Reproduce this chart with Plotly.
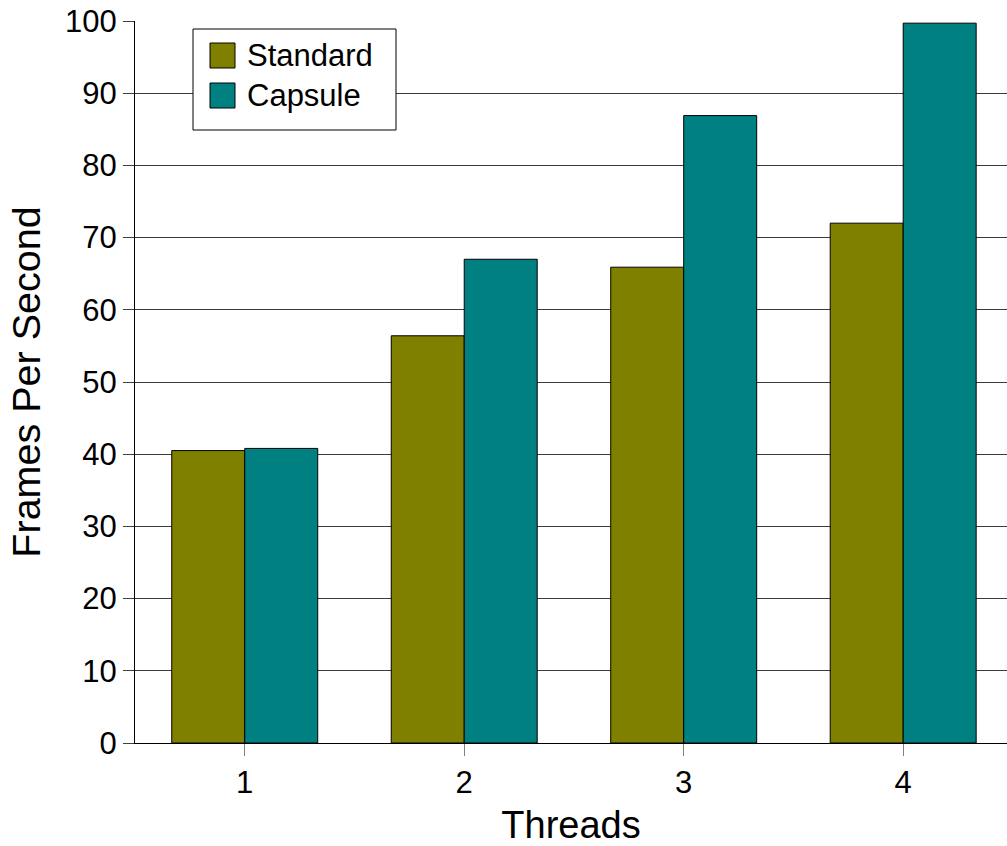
import plotly.graph_objects as go

threads = [1, 2, 3, 4]
tick_labels = ["1", "2", "3", "4"]
series_names = ["Standard", "Capsule"]
standard_fps = [40.5, 56.4, 65.9, 72.0]
capsule_fps = [40.8, 67.0, 86.9, 99.7]
y_ticks = [0, 10, 20, 30, 40, 50, 60, 70, 80, 90, 100]

colors = ["#808000", "#008080"]
FONT = "Liberation Sans, Arial, sans-serif"

fig = go.Figure()
for name, vals, col in zip(series_names, [standard_fps, capsule_fps], colors):
    fig.add_trace(go.Bar(
        x=threads, y=vals, name=name,
        marker=dict(color=col, line=dict(color="#000000", width=1)),
        showlegend=False,
    ))

fig.update_layout(
    width=1007, height=846,
    margin=dict(l=135, r=0, t=21, b=103),
    paper_bgcolor="white", plot_bgcolor="white",
    barmode="group", bargap=0.335, bargroupgap=0,
    font=dict(family=FONT, size=31, color="black"),
    xaxis=dict(
        range=[0.5, 4.473],
        tickmode="array", tickvals=threads, ticktext=tick_labels,
        ticks="outside", ticklen=12, tickcolor="#808080", tickwidth=1,
        showline=True, linecolor="black", linewidth=1,
        showgrid=False, zeroline=False,
        tickfont=dict(size=31),
        title=dict(text="Threads", font=dict(size=38), standoff=16),
    ),
    yaxis=dict(
        range=[0, 100],
        tickmode="array", tickvals=y_ticks,
        ticks="outside", ticklen=11, tickcolor="#404040", tickwidth=1,
        showline=True, linecolor="black", linewidth=1,
        showgrid=True, gridcolor="#3c3c3c", gridwidth=1,
        zeroline=False,
        tickfont=dict(size=31),
        title=dict(text="Frames Per Second", font=dict(size=39.5), standoff=12),
    ),
)

# custom legend (box, swatches, labels) in pixel-derived paper coords
W, H = 1007 - 135, 846 - 21 - 103
def px(x):
    return (x - 135) / W
def py(y):
    return (846 - 103 - y) / H

fig.add_shape(type="rect", xref="paper", yref="paper",
              x0=px(193), x1=px(396), y0=py(130), y1=py(29),
              line=dict(color="black", width=1), fillcolor="white", layer="above")
sw_tops = [43, 83]
for name, col, top in zip(series_names, colors, sw_tops):
    fig.add_shape(type="rect", xref="paper", yref="paper",
                  x0=px(210), x1=px(235), y0=py(top + 25), y1=py(top),
                  line=dict(color="black", width=1), fillcolor=col, layer="above")
    fig.add_annotation(xref="paper", yref="paper", x=px(245), y=py(top + 12.5),
                       text=name, showarrow=False, xanchor="left", yanchor="middle",
                       font=dict(size=31, family=FONT, color="black"))

fig.write_html("out.html")
